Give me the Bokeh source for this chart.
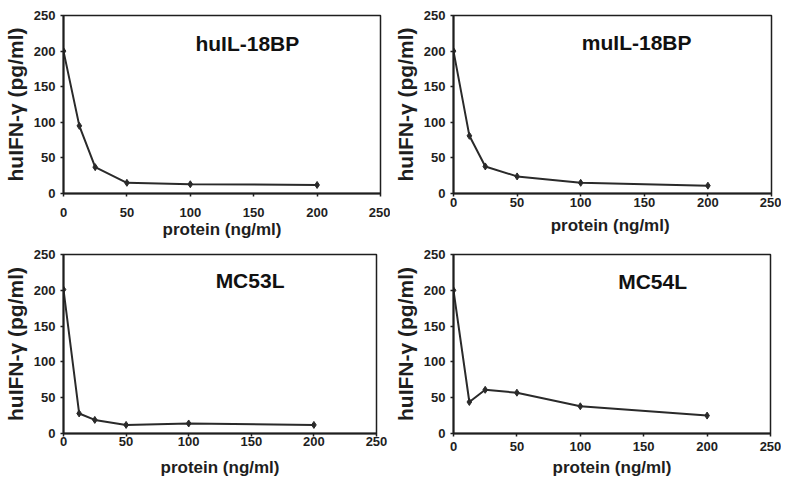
from bokeh.plotting import figure
from bokeh.layouts import column, row
from bokeh.models import FixedTicker, Range1d
from bokeh.core.properties import value
from bokeh.embed import file_html
from bokeh.resources import INLINE

protein = [0, 12.5, 25, 50, 100, 200]
hu_il18bp = [200, 95, 37, 15, 13, 12]
mu_il18bp = [200, 81, 38, 24, 15, 11]
mc53l = [201, 28, 19, 12, 14, 12]
mc54l = [200, 44, 61, 57, 38, 25]

titles = ["huIL-18BP", "muIL-18BP", "MC53L", "MC54L"]
xlabels = ["protein (ng/ml)", "protein  (ng/ml)", "protein (ng/ml)", "protein (ng/ml)"]
ylabel = "huIFN-\u03b3 (pg/ml)"
ticks = [0, 50, 100, 150, 200, 250]
title_pos = [(145, 211), (144, 212), (149, 214), (157, 212)]

FONT = "Liberation Sans"
FONT_VALUE = value(FONT)
INK = "#1e1e1e"


def panel(y, title, xlabel, tpos, bl, fw, br, bt, fh, bb, xstand, xlstand):
    p = figure(output_backend="svg", toolbar_location=None,
               width=bl + fw + br, height=bt + fh + bb,
               min_border_left=bl, min_border_right=br,
               min_border_top=bt, min_border_bottom=bb,
               x_range=Range1d(0, 250), y_range=Range1d(0, 250))
    p.grid.visible = False
    p.outline_line_color = INK
    p.outline_line_width = 1.5
    p.background_fill_color = "white"
    p.border_fill_color = "white"
    for ax in (p.xaxis[0], p.yaxis[0]):
        ax.ticker = FixedTicker(ticks=ticks)
        ax.minor_tick_line_color = None
        ax.major_tick_in = 0
        ax.major_tick_out = 3
        ax.major_tick_line_width = 1.5
        ax.major_tick_line_color = INK
        ax.axis_line_width = 2
        ax.axis_line_color = INK
        ax.major_label_text_font = FONT
        ax.major_label_text_font_style = "bold"
        ax.major_label_text_font_size = "13px"
        ax.major_label_text_color = INK
        ax.axis_label_text_font = FONT
        ax.axis_label_text_font_style = "bold"
        ax.axis_label_text_color = INK
    p.xaxis.major_label_standoff = xstand
    p.xaxis.axis_label = xlabel
    p.xaxis.axis_label_text_font_size = "17px"
    p.xaxis.axis_label_standoff = xlstand
    p.yaxis.major_label_standoff = 5
    p.yaxis.axis_label = ylabel
    p.yaxis.axis_label_text_font_size = "21px"
    p.yaxis.axis_label_standoff = 4

    p.line(protein, y, line_color="#2a2a2a", line_width=2)
    p.scatter(protein, y, marker="diamond", size=7,
              fill_color="#2a2a2a", line_color="#2a2a2a")
    p.text(x=[tpos[0]], y=[tpos[1]], text=[title],
           text_font=FONT_VALUE, text_font_style="bold",
           text_font_size="21px", text_align="center",
           text_baseline="middle", text_color="#111111")
    return p


p1 = panel(hu_il18bp, titles[0], xlabels[0], title_pos[0], 55, 325, 10, 11, 182, 51, 11, 0)
p2 = panel(mu_il18bp, titles[1], xlabels[1], title_pos[1], 59, 322, 10, 15, 181, 48, 1, 6)
p3 = panel(mc53l, titles[2], xlabels[2], title_pos[2], 55, 321, 14, 10, 182, 43, 0, 9)
p4 = panel(mc54l, titles[3], xlabels[3], title_pos[3], 59, 321, 11, 10, 185, 40, 5, 4)

layout = column(row(p1, p2), row(p3, p4))
open("out.html", "w").write(file_html(layout, INLINE))
